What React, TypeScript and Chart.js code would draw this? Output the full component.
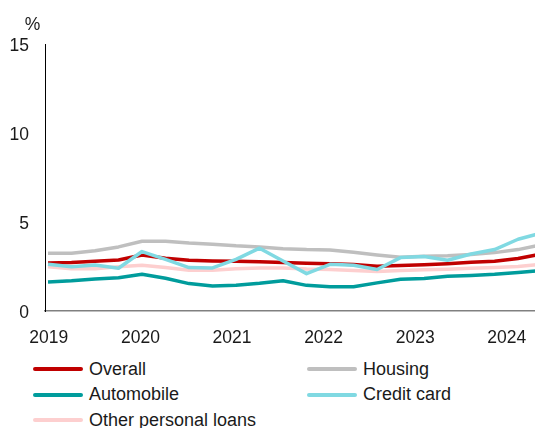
import React, { useEffect, useRef } from "react";
import { Chart, registerables } from "chart.js";

Chart.register(...registerables);

const QUARTERS = [
  "2019Q1", "2019Q2", "2019Q3", "2019Q4",
  "2020Q1", "2020Q2", "2020Q3", "2020Q4",
  "2021Q1", "2021Q2", "2021Q3", "2021Q4",
  "2022Q1", "2022Q2", "2022Q3", "2022Q4",
  "2023Q1", "2023Q2", "2023Q3", "2023Q4",
  "2024Q1", "2024Q2",
];
const YEAR_TICKS = [2019, 2020, 2021, 2022, 2023, 2024];
const Y_TICKS = [0, 5, 10, 15];

const OVERALL = [2.7, 2.72, 2.8, 2.87, 3.15, 2.96, 2.85, 2.81, 2.79, 2.77, 2.72, 2.68, 2.66, 2.61, 2.52, 2.56, 2.6, 2.66, 2.74, 2.8, 2.95, 3.2];
const HOUSING = [3.25, 3.25, 3.38, 3.6, 3.92, 3.92, 3.82, 3.75, 3.66, 3.6, 3.5, 3.45, 3.43, 3.3, 3.15, 3.02, 3.08, 3.1, 3.18, 3.28, 3.45, 3.72];
const AUTOMOBILE = [1.63, 1.7, 1.8, 1.87, 2.06, 1.84, 1.54, 1.41, 1.45, 1.56, 1.7, 1.44, 1.36, 1.36, 1.58, 1.78, 1.82, 1.95, 2.0, 2.06, 2.16, 2.28];
const CREDIT_CARD = [2.63, 2.48, 2.59, 2.4, 3.34, 2.9, 2.44, 2.42, 2.9, 3.53, 2.81, 2.1, 2.62, 2.57, 2.33, 3.0, 3.06, 2.85, 3.2, 3.45, 4.03, 4.38];
const OTHER_LOANS = [2.48, 2.38, 2.38, 2.48, 2.57, 2.44, 2.29, 2.29, 2.38, 2.42, 2.42, 2.36, 2.33, 2.28, 2.22, 2.27, 2.32, 2.35, 2.4, 2.44, 2.5, 2.62];

const SERIES = [
  { label: "Overall", data: OVERALL, color: "#C00000", order: 1 },
  { label: "Housing", data: HOUSING, color: "#BFBFBF", order: 2 },
  { label: "Automobile", data: AUTOMOBILE, color: "#009C9C", order: 3 },
  { label: "Credit card", data: CREDIT_CARD, color: "#80D9E2", order: 0 },
  { label: "Other personal loans", data: OTHER_LOANS, color: "#FDCFCF", order: 4 },
];

const FONT = "'Liberation Sans', Arial, sans-serif";

// axis ranges (the reference is cropped on the right)
const Q_MIN = -0.128;
const Q_MAX = 22.21;
const YR_MIN = 2018.9585;
const YR_MAX = 2024.69;

const percentPlugin = {
  id: "percentLabel",
  afterDraw(chart: any) {
    const { ctx, chartArea } = chart;
    ctx.save();
    ctx.fillStyle = "#1a1a1a";
    ctx.font = `17.5px ${FONT}`;
    ctx.textAlign = "center";
    ctx.textBaseline = "middle";
    ctx.fillText("%", chartArea.left - 12.5, chartArea.top - 18.5);
    ctx.restore();
  },
};

export default function App() {
  const canvasRef = useRef<HTMLCanvasElement | null>(null);

  useEffect(() => {
    if (!canvasRef.current) return;
    const chart = new Chart(canvasRef.current, {
      type: "line",
      data: {
        datasets: SERIES.map((s) => ({
          label: s.label,
          data: s.data.map((v, i) => ({ x: i, y: v, q: QUARTERS[i] })),
          borderColor: s.color,
          backgroundColor: s.color,
          borderWidth: 3.5,
          pointRadius: 0,
          tension: 0,
          borderJoinStyle: "round",
          order: s.order,
          xAxisID: "xq",
          yAxisID: "y",
        })),
      },
      options: {
        animation: false,
        responsive: true,
        maintainAspectRatio: false,
        layout: { padding: { top: 44, left: 10, right: 0, bottom: 0 } },
        plugins: {
          legend: { display: false },
          tooltip: { enabled: false },
          title: { display: false },
        },
        scales: {
          xq: {
            type: "linear",
            axis: "x",
            position: "bottom",
            display: false,
            min: Q_MIN,
            max: Q_MAX,
          },
          x: {
            type: "linear",
            axis: "x",
            position: "bottom",
            min: YR_MIN,
            max: YR_MAX,
            grid: { display: false, drawTicks: false },
            border: { display: true, color: "#808080", width: 1.5 },
            afterBuildTicks: (scale: any) => {
              scale.ticks = YEAR_TICKS.map((v) => ({ value: v }));
            },
            afterFit: (scale: any) => {
              scale.height = 39;
            },
            ticks: {
              autoSkip: false,
              maxRotation: 0,
              padding: 17,
              color: "#1a1a1a",
              font: { family: FONT, size: 17.5 },
              callback: (v: any) => String(v),
            },
          },
          y: {
            type: "linear",
            min: 0,
            max: 15,
            grid: { display: false, drawTicks: false },
            border: { display: true, color: "#000000", width: 1 },
            afterBuildTicks: (scale: any) => {
              scale.ticks = Y_TICKS.map((v) => ({ value: v }));
            },
            afterFit: (scale: any) => {
              scale.width = 35;
            },
            ticks: {
              padding: 16,
              labelOffset: 2,
              color: "#1a1a1a",
              font: { family: FONT, size: 17.5 },
              callback: (v: any) => String(v),
            },
          },
        },
      },
      plugins: [percentPlugin],
    } as any);
    return () => chart.destroy();
  }, []);

  return (
    <div
      style={{
        position: "fixed",
        left: 0,
        top: 0,
        width: 535,
        height: 428,
        overflow: "hidden",
        background: "#ffffff",
      }}
    >
      <div style={{ position: "absolute", left: 0, top: 0, width: 570, height: 350 }}>
        <canvas ref={canvasRef} />
      </div>
      <div
        style={{
          position: "absolute",
          left: 33,
          top: 356.5,
          display: "grid",
          gridTemplateColumns: "274px 274px",
          gridAutoRows: "25.5px",
          fontFamily: FONT,
          fontSize: 18,
          color: "#1a1a1a",
        }}
      >
        {SERIES.map((s) => (
          <div key={s.label} style={{ display: "flex", alignItems: "center", whiteSpace: "nowrap" }}>
            <span
              style={{
                display: "inline-block",
                width: 50,
                height: 4,
                background: s.color,
                borderRadius: 2,
                marginRight: 6,
              }}
            />
            <span>{s.label}</span>
          </div>
        ))}
      </div>
    </div>
  );
}
